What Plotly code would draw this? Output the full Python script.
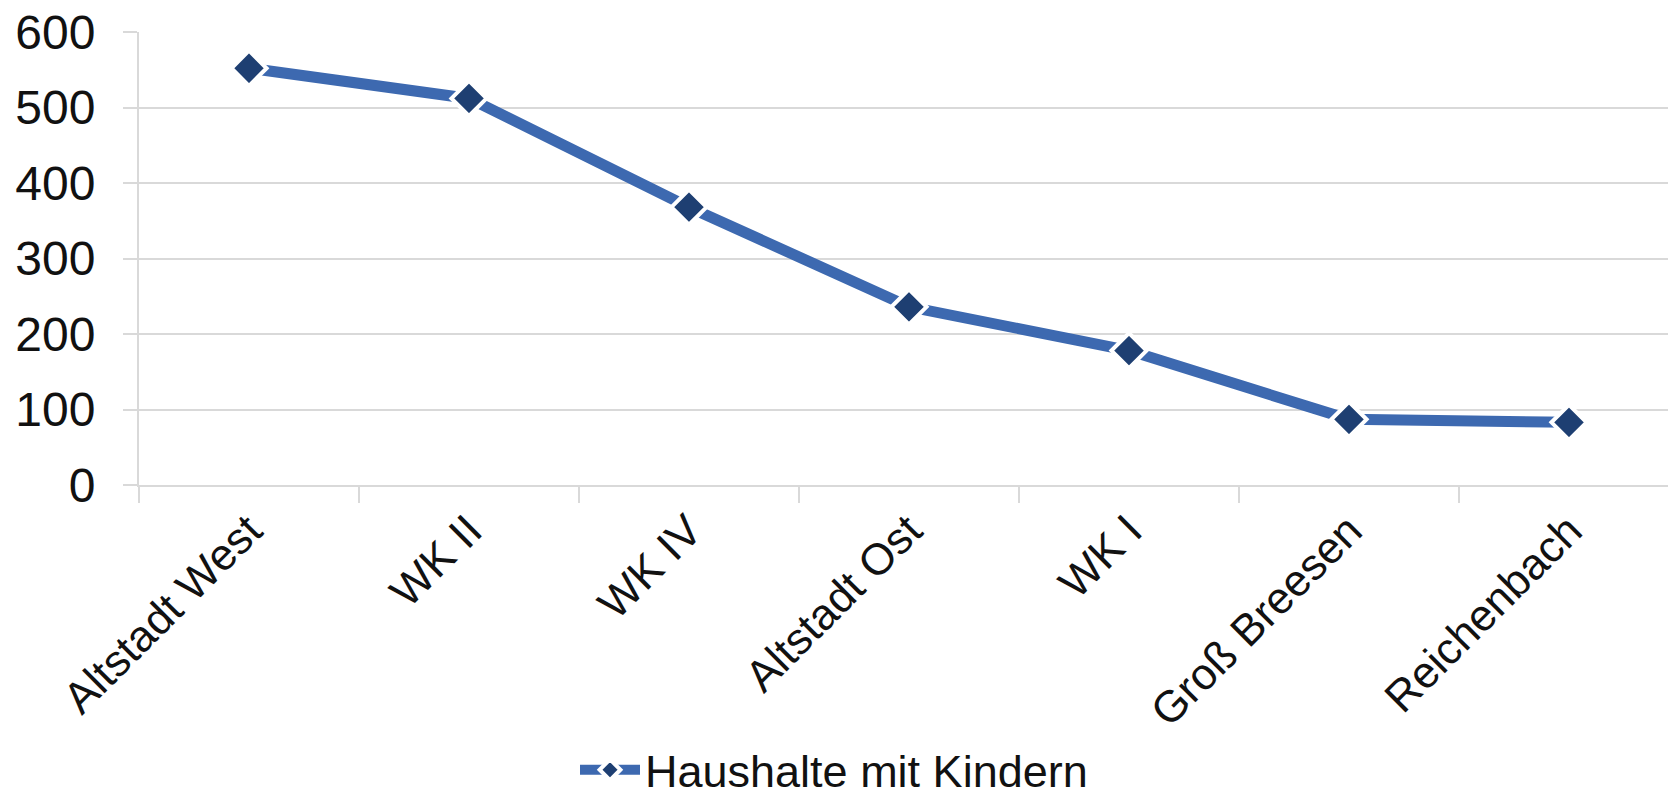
import plotly.graph_objects as go

categories = ["Altstadt West", "WK II", "WK IV", "Altstadt Ost", "WK I", "Groß Breesen", "Reichenbach"]
values = [552, 512, 368, 236, 178, 87, 83]
series_name = "Haushalte mit Kindern"
y_ticks = [0, 100, 200, 300, 400, 500, 600]

FONT = "Liberation Sans, Arial, sans-serif"
GRID = "#d9d9d9"

fig = go.Figure()
fig.add_trace(go.Scatter(
    x=categories, y=values, name=series_name, mode="lines+markers",
    line=dict(color="#3D69B0", width=11),
    marker=dict(symbol="diamond", size=27, color="#1E3F72",
                line=dict(color="white", width=4)),
))

fig.update_layout(
    width=1668, height=806,
    paper_bgcolor="white", plot_bgcolor="white",
    margin=dict(l=139, r=0, t=32, b=321, autoexpand=False),
    font=dict(family=FONT, color="#111111"),
    showlegend=True,
    legend=dict(orientation="h", xref="container", yref="container",
                x=0.5, xanchor="center", y=0, yanchor="bottom",
                font=dict(size=45, family=FONT, color="#111111"),
                itemwidth=60, bgcolor="rgba(0,0,0,0)"),
)
fig.update_xaxes(
    type="category", range=[-0.5, 6.45], automargin=False,
    tickangle=-45, tickfont=dict(size=44, family=FONT, color="#111111"),
    tickson="boundaries", ticks="outside", ticklen=16, tickwidth=2, tickcolor=GRID,
    showgrid=False, showline=True, linecolor=GRID, linewidth=2,
    zeroline=False,
)
fig.update_yaxes(
    range=[0, 600], tickvals=y_ticks, automargin=False,
    tickfont=dict(size=48, family=FONT, color="#111111"),
    ticks="outside", ticklen=14, tickwidth=2, tickcolor=GRID,
    ticklabelstandoff=18,
    showgrid=True, gridcolor=GRID, gridwidth=2,
    showline=True, linecolor=GRID, linewidth=2, zeroline=False,
)

fig.write_html("out.html", config={"displayModeBar": False},
               post_script="document.body.style.margin='0';document.body.style.overflow='hidden';")
